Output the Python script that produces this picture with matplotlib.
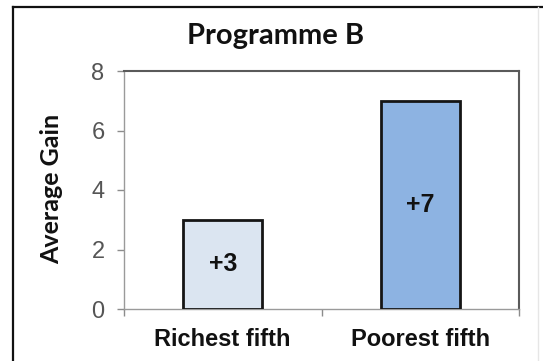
import matplotlib
matplotlib.use("Agg")
import matplotlib.pyplot as plt
from matplotlib.lines import Line2D

categories = ["Richest fifth", "Poorest fifth"]
gains = [3, 7]
bar_labels = ["+3", "+7"]
bar_colors = ["#dbe5f1", "#8db3e2"]
y_ticks = [0, 2, 4, 6, 8]
title = "Programme B"
y_title = "Average Gain"

W, H = 543, 361
fig = plt.figure(figsize=(W / 100, H / 100), dpi=100)
fig.patch.set_facecolor("white")

# outer chart frame
fig.add_artist(Line2D([13 / W, 13 / W], [0, 1 - 7 / H], transform=fig.transFigure,
                      color="#111111", lw=1.6))
fig.add_artist(Line2D([13 / W, 1.0], [1 - 7 / H, 1 - 7 / H], transform=fig.transFigure,
                      color="#111111", lw=1.6))
fig.add_artist(Line2D([538 / W, 538 / W], [0, 1 - 7 / H], transform=fig.transFigure,
                      color="#e6e6e6", lw=1.0))

left, right, bottom, top = 124 / W, 519 / W, 1 - 309 / H, 1 - 71 / H
ax = fig.add_axes([left, bottom, right - left, top - bottom])

x = list(range(len(categories)))
bars = ax.bar(x, gains, width=0.4, color=bar_colors, edgecolor="#151515", linewidth=2.0,
              zorder=3)
for rect, lab in zip(bars, bar_labels):
    ax.text(rect.get_x() + rect.get_width() / 2, rect.get_height() / 2, lab,
            ha="center", va="center", fontsize=18, fontweight="bold",
            family="Liberation Sans", color="#111111", zorder=4)

ax.set_xlim(-0.5, len(categories) - 0.5)
ax.set_ylim(0, 8)
ax.set_yticks(y_ticks)
ax.set_yticklabels([str(t) for t in y_ticks], family="Liberation Sans", fontsize=17,
                   color="#555555")
ax.set_xticks(x)
ax.set_xticklabels(categories, family="Liberation Sans", fontsize=17, fontweight="bold",
                   color="#111111")
ax.set_xticks([i - 0.5 for i in range(len(categories) + 1)], minor=True)
ax.tick_params(axis="x", which="major", length=0, pad=14)
ax.tick_params(axis="x", which="minor", length=5, width=1.0, color="#8c8c8c", direction="out")
ax.tick_params(axis="y", which="major", length=5, width=1.0, color="#8c8c8c", direction="out",
               pad=9)

for side in ["left", "bottom"]:
    ax.spines[side].set_color("#9a9a9a")
    ax.spines[side].set_linewidth(1.0)
for side in ["top", "right"]:
    ax.spines[side].set_color("#5a5a5a")
    ax.spines[side].set_linewidth(1.5)

fig.text(276 / W, 1 - 36 / H, title, ha="center", va="center", fontsize=21,
         fontweight="bold", family="Lato", color="#111111")
fig.text(52 / W, 1 - 189 / H, y_title, ha="center", va="center", rotation=90,
         fontsize=18, fontweight="bold", family="Lato", color="#111111")

fig.savefig("out.png", dpi=100, facecolor="white")
